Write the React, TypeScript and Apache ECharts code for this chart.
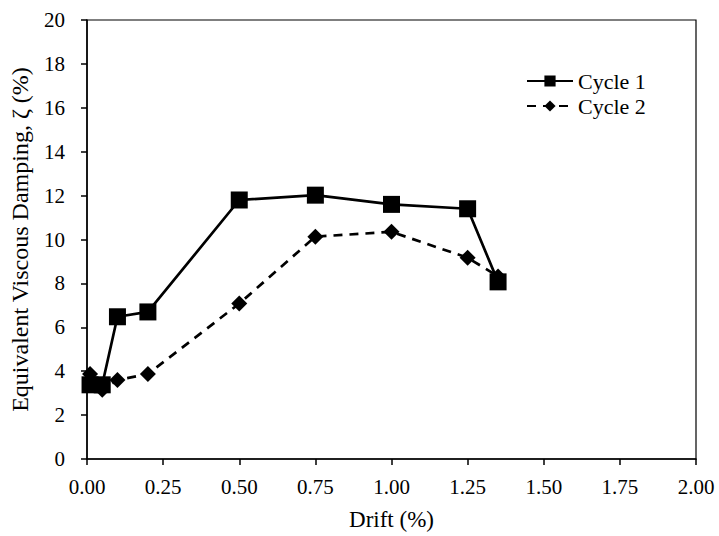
import React, { useEffect, useRef } from "react";
import * as echarts from "echarts";

const drift1 = [0.01, 0.05, 0.1, 0.2, 0.5, 0.75, 1.0, 1.25, 1.35];
const cycle1 = [3.38, 3.38, 6.48, 6.7, 11.8, 12.02, 11.6, 11.4, 8.07];
const drift2 = [0.01, 0.05, 0.1, 0.2, 0.5, 0.75, 1.0, 1.25, 1.35];
const cycle2 = [3.87, 3.15, 3.6, 3.87, 7.08, 10.13, 10.35, 9.17, 8.32];
const seriesNames = ["Cycle 1", "Cycle 2"];

const FONT = "Liberation Serif";

export default function App() {
  const ref = useRef<HTMLDivElement>(null);
  useEffect(() => {
    if (!ref.current) return;
    const chart = echarts.init(ref.current, undefined, { renderer: "svg" });
    chart.setOption({
      animation: false,
      backgroundColor: "#ffffff",
      textStyle: { fontFamily: FONT, color: "#000" },
      grid: {
        left: 86,
        right: 23,
        top: 20,
        bottom: 75,
        containLabel: false,
        show: true,
        borderColor: "#000",
        borderWidth: 1.2,
      },
      legend: {
        top: 65,
        left: 521,
        orient: "vertical",
        itemWidth: 46,
        itemHeight: 14,
        itemGap: 3,
        textStyle: { fontFamily: FONT, fontSize: 22, lineHeight: 20, color: "#000" },
        data: seriesNames,
      },
      xAxis: {
        type: "value",
        min: 0,
        max: 2,
        interval: 0.25,
        name: "Drift (%)",
        nameLocation: "middle",
        nameGap: 49,
        nameTextStyle: { fontFamily: FONT, fontSize: 23, color: "#000" },
        axisLine: { lineStyle: { color: "#000", width: 1.5 } },
        axisTick: { show: true, inside: false, length: 6, lineStyle: { color: "#000", width: 1.5 } },
        axisLabel: {
          fontFamily: FONT,
          fontSize: 21,
          color: "#000",
          margin: 17,
          formatter: (v: number) => v.toFixed(2),
        },
        splitLine: { show: false },
      },
      yAxis: {
        type: "value",
        min: 0,
        max: 20,
        interval: 2,
        name: "Equivalent Viscous Damping, ζ (%)",
        nameLocation: "middle",
        nameGap: 55,
        nameTextStyle: { fontFamily: FONT, fontSize: 24, color: "#000" },
        axisLine: { lineStyle: { color: "#000", width: 1.5 } },
        axisTick: { show: true, inside: false, length: 6, lineStyle: { color: "#000", width: 1.5 } },
        axisLabel: { fontFamily: FONT, fontSize: 21, color: "#000", margin: 22 },
        splitLine: { show: false },
      },
      series: [
        {
          name: seriesNames[0],
          type: "line",
          data: drift1.map((x, i) => [x, cycle1[i]]),
          symbol: "rect",
          symbolSize: 17,
          itemStyle: { color: "#000" },
          lineStyle: { color: "#000", width: 2.7, type: "solid" },
          z: 3,
        },
        {
          name: seriesNames[1],
          type: "line",
          data: drift2.map((x, i) => [x, cycle2[i]]),
          symbol: "diamond",
          symbolSize: 16,
          itemStyle: { color: "#000" },
          lineStyle: { color: "#000", width: 2.7, type: [9, 7] },
          z: 2,
        },
      ],
    });
    return () => chart.dispose();
  }, []);
  return (
    <div
      ref={ref}
      style={{ position: "absolute", left: 0, top: 0, width: 719, height: 536 }}
    />
  );
}
